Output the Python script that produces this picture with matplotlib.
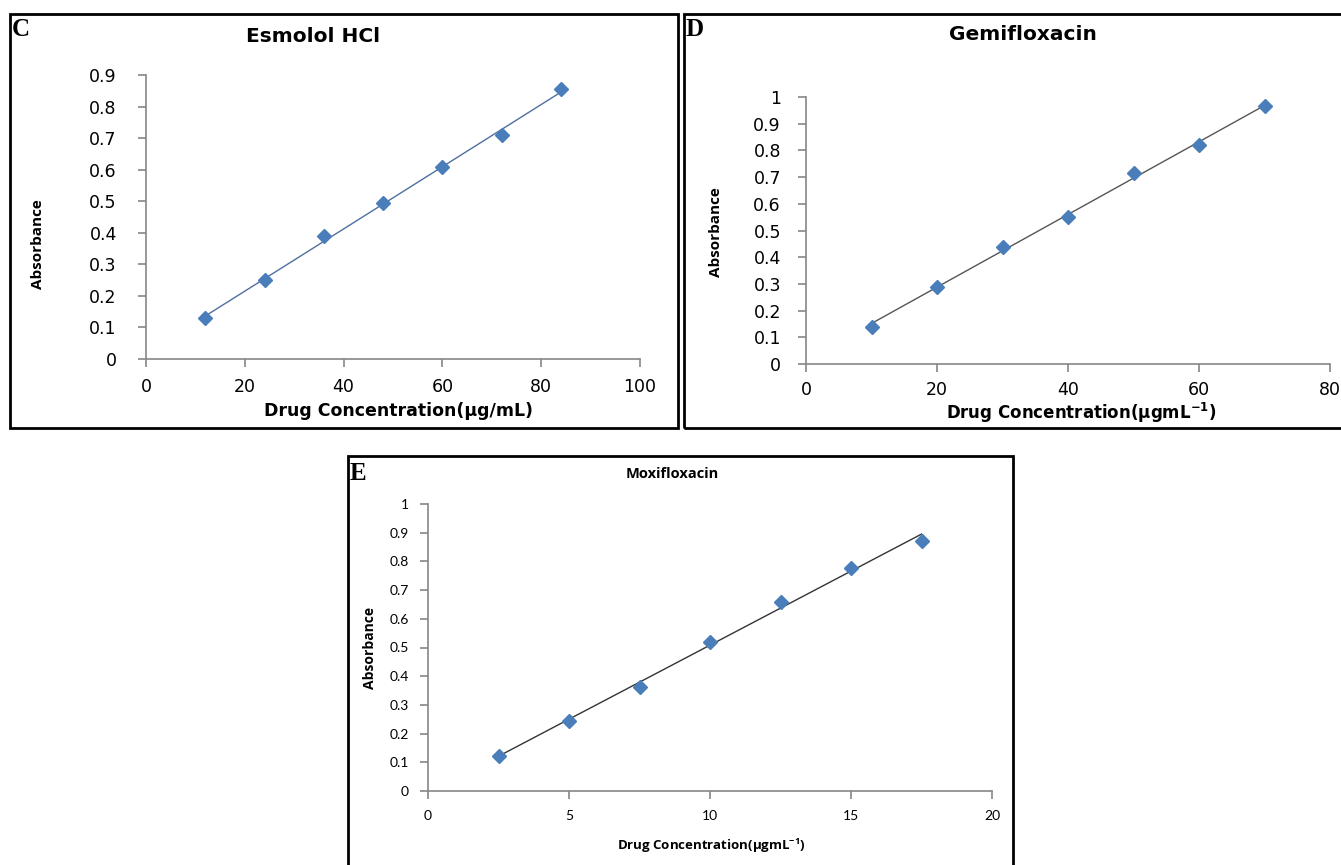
import numpy as np
import matplotlib
matplotlib.use("Agg")
import matplotlib.pyplot as plt
from matplotlib.patches import Rectangle

plt.rcParams['mathtext.default'] = 'regular'

# data
esmolol_x = [12, 24, 36, 48, 60, 72, 84]
esmolol_y = [0.13, 0.25, 0.39, 0.495, 0.607, 0.71, 0.855]

gemi_x = [10, 20, 30, 40, 50, 60, 70]
gemi_y = [0.14, 0.29, 0.44, 0.55, 0.715, 0.82, 0.965]

moxi_x = [2.5, 5, 7.5, 10, 12.5, 15, 17.5]
moxi_y = [0.122, 0.245, 0.362, 0.52, 0.658, 0.778, 0.872]

c_xticks = [0, 20, 40, 60, 80, 100]
c_yticks = [0, 0.1, 0.2, 0.3, 0.4, 0.5, 0.6, 0.7, 0.8, 0.9]
d_xticks = [0, 20, 40, 60, 80]
d_yticks = [0, 0.1, 0.2, 0.3, 0.4, 0.5, 0.6, 0.7, 0.8, 0.9, 1]
e_xticks = [0, 5, 10, 15, 20]
e_yticks = d_yticks

W, H = 1341, 865
fig = plt.figure(figsize=(W / 100, H / 100), dpi=100)
fig.patch.set_facecolor('white')

blue = '#4a7ebb'
axis_grey = '#868686'


def fx(px):
    return px / W


def fy(py):
    return 1 - py / H


def label_fmt(v):
    return '%g' % v


def make_panel(rect, xs, ys, xticks, yticks, line_color, font, tick_size, xpad, ypad):
    ax = fig.add_axes(rect)
    ax.plot(xs, ys, 'D', color=blue, markersize=7, zorder=3)
    # linear trendline
    k, b = np.polyfit(xs, ys, 1)
    xx = np.array([xs[0], xs[-1]])
    ax.plot(xx, k * xx + b, color=line_color, lw=1, zorder=2)
    ax.set_xlim(xticks[0], xticks[-1])
    ax.set_ylim(yticks[0], yticks[-1])
    ax.set_xticks(xticks)
    ax.set_yticks(yticks)
    ax.set_xticklabels([label_fmt(v) for v in xticks], family=font, fontsize=tick_size)
    ax.set_yticklabels([label_fmt(v) for v in yticks], family=font, fontsize=tick_size)
    for s in ['top', 'right']:
        ax.spines[s].set_visible(False)
    for s in ['left', 'bottom']:
        ax.spines[s].set_color(axis_grey)
        ax.spines[s].set_linewidth(1.2)
    ax.tick_params(color=axis_grey, length=6, width=1.2, direction='out', colors='black')
    ax.tick_params(axis='x', pad=xpad)
    ax.tick_params(axis='y', pad=ypad)
    return ax


def box(x0, y0, x1, y1):
    fig.patches.append(Rectangle((fx(x0), fy(y1)), fx(x1 - x0), (y1 - y0) / H,
                                 transform=fig.transFigure, fill=False,
                                 edgecolor='black', lw=2))


# panel C
box(10, 14, 678, 428)
make_panel([fx(146), fy(359), fx(640 - 146), (359 - 75) / H],
           esmolol_x, esmolol_y, c_xticks, c_yticks, '#4f6fa0', 'DejaVu Sans', 12.5, 8, 15)
fig.text(fx(12), fy(30), 'C', family='Liberation Serif', weight='bold', fontsize=18, va='center')
fig.text(fx(313), fy(37), 'Esmolol HCl', family='DejaVu Sans', weight='bold', fontsize=14.5,
         ha='center', va='center')
fig.text(fx(398), fy(411), u'Drug Concentration(\u00b5g/mL)', family='DejaVu Sans', weight='bold',
         fontsize=12.5, ha='center', va='center')
fig.text(fx(38), fy(244), 'Absorbance', family='Open Sans', weight='bold', fontsize=11,
         rotation=90, ha='center', va='center')

# panel D
box(684, 14, 1345, 428)
make_panel([fx(806), fy(364), fx(1330 - 806), (364 - 97) / H],
           gemi_x, gemi_y, d_xticks, d_yticks, '#555555', 'DejaVu Sans', 12.5, 6, 12)
fig.text(fx(686), fy(30), 'D', family='Liberation Serif', weight='bold', fontsize=18, va='center')
fig.text(fx(1023), fy(34), 'Gemifloxacin', family='DejaVu Sans', weight='bold', fontsize=14.5,
         ha='center', va='center')
fig.text(fx(1081), fy(413), u'Drug Concentration(\u00b5gmL$^{-1}$)', family='DejaVu Sans',
         weight='bold', fontsize=12, ha='center', va='center')
fig.text(fx(716), fy(232), 'Absorbance', family='Open Sans', weight='bold', fontsize=11,
         rotation=90, ha='center', va='center')

# panel E
box(348, 456, 1013, 870)
make_panel([fx(428), fy(791), fx(992 - 428), (791 - 504) / H],
           moxi_x, moxi_y, e_xticks, e_yticks, '#333333', 'Lato', 10, 8, 8)
fig.text(fx(350), fy(473), 'E', family='Liberation Serif', weight='bold', fontsize=18, va='center')
fig.text(fx(672), fy(474), 'Moxifloxacin', family='Open Sans', weight='bold', fontsize=10.5,
         ha='center', va='center')
fig.text(fx(711), fy(846), u'Drug Concentration(\u00b5gmL$^{-1}$)', family='Open Sans',
         weight='bold', fontsize=9.5, ha='center', va='center')
fig.text(fx(370), fy(648), 'Absorbance', family='Open Sans', weight='bold', fontsize=10,
         rotation=90, ha='center', va='center')

fig.savefig('out.png', dpi=100)
